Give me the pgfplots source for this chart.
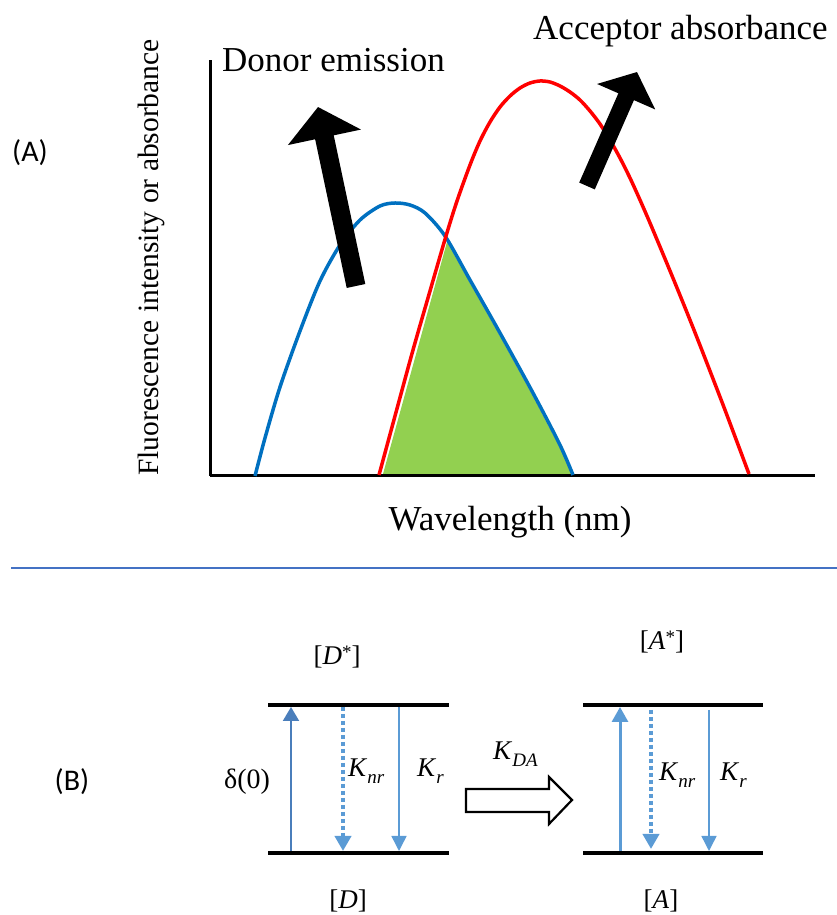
\documentclass[border=0pt]{standalone}
\usepackage{fontspec}
\setmainfont{Liberation Serif}
\newfontfamily\calibri{Carlito}
\usepackage{pgfplots}
\pgfplotsset{compat=1.18}
\usetikzlibrary{arrows.meta}
\definecolor{dblue}{HTML}{0070C0}
\definecolor{accred}{HTML}{FF0000}
\definecolor{ovgreen}{HTML}{92D050}
\definecolor{sepblue}{HTML}{4472C4}
\definecolor{lblue}{HTML}{5B9BD5}
\definecolor{mblue}{HTML}{4A7EBB}
\newcommand\lsub[1]{\raisebox{-0.24em}{\fontsize{19}{20}\selectfont\itshape #1}}
\newcommand\lsup[1]{\raisebox{0.22em}{\fontsize{19}{20}\selectfont #1}}
\newcommand\labfont{\fontsize{27}{30}\selectfont}

\begin{document}
\begin{tikzpicture}
\useasboundingbox (0,0) rectangle (837pt,915pt);
% ---------------- canvas for panel labels and panel (B) ----------------
\begin{axis}[at={(0pt,0pt)}, anchor=south west, scale only axis,
  width=837pt, height=915pt, xmin=0, xmax=837, ymin=0, ymax=915,
  hide axis, clip=false]
  % panel labels
  \node[inner sep=0pt, font=\calibri\fontsize{30}{36}\selectfont] at (axis cs:30,762) {(A)};
  \node[inner sep=0pt, font=\calibri\fontsize{30}{36}\selectfont] at (axis cs:72,133) {(B)};
  % separator
  \addplot[sepblue, line width=2pt] coordinates {(11,347) (837,347)};
  % energy levels
  \addplot[black, line width=4pt] coordinates {(268,210) (449,210)};
  \addplot[black, line width=4pt] coordinates {(268,62) (449,62)};
  \addplot[black, line width=4pt] coordinates {(583,210) (763,210)};
  \addplot[black, line width=4pt] coordinates {(583,62) (763,62)};
  % donor transitions
  \addplot[mblue, line width=2pt, -{Triangle[length=14pt,width=16pt]}] coordinates {(291,64) (291,208)};
  \addplot[lblue, line width=4pt, dash pattern=on 4pt off 3pt, -{Triangle[length=15pt,width=16pt]}] coordinates {(343,208) (343,64)};
  \addplot[lblue, line width=1.5pt, -{Triangle[length=15pt,width=15pt]}] coordinates {(399,208) (399,64)};
  % acceptor transitions
  \addplot[lblue, line width=3pt, -{Triangle[length=15pt,width=16pt]}] coordinates {(620,64) (620,208)};
  \addplot[lblue, line width=4pt, dash pattern=on 4pt off 3pt, -{Triangle[length=15pt,width=16pt]}] coordinates {(651,205) (651,66)};
  \addplot[lblue, line width=1.5pt, -{Triangle[length=15pt,width=15pt]}] coordinates {(709,205) (709,64)};
  % transfer block arrow
  \addplot[black, line width=2.2pt, fill=white] coordinates {(466,126) (549,126) (549,138) (572,115) (549,91) (549,103) (466,103)} -- cycle;
  % labels
  \node[inner sep=0pt, font=\fontsize{28}{32}\selectfont] at (axis cs:247,133) {δ(0)};
  \node[inner sep=0pt, font=\labfont] at (axis cs:337,258) {[\textit{D}\lsup{*}]};
  \node[inner sep=0pt, font=\labfont] at (axis cs:348,14) {[\textit{D}]};
  \node[inner sep=0pt, font=\labfont] at (axis cs:662,273) {[\textit{A}\lsup{*}]};
  \node[inner sep=0pt, font=\labfont] at (axis cs:661,14) {[\textit{A}]};
  \node[inner sep=0pt, anchor=base west, font=\labfont] at (axis cs:348,138) {\textit{K}\lsub{nr}};
  \node[inner sep=0pt, anchor=base west, font=\labfont] at (axis cs:417,138) {\textit{K}\lsub{r}};
  \node[inner sep=0pt, anchor=base west, font=\labfont] at (axis cs:659,134) {\textit{K}\lsub{nr}};
  \node[inner sep=0pt, anchor=base west, font=\labfont] at (axis cs:720,134) {\textit{K}\lsub{r}};
  \node[inner sep=0pt, anchor=base west, font=\labfont] at (axis cs:493,155) {\textit{K}\lsub{DA}};
\end{axis}
% ---------------- panel (A): spectral overlap ----------------
\begin{axis}[at={(210pt,439pt)}, anchor=south west, scale only axis,
  width=605pt, height=416pt, xmin=210, xmax=815, ymin=439, ymax=855,
  axis x line=bottom, axis y line=left,
  axis line style={-, line width=3pt},
  xtick=\empty, ytick=\empty, clip=false,
  xlabel={Wavelength (nm)}, ylabel={Fluorescence intensity or absorbance},
  xlabel style={at={(axis description cs:0.496,-0.11)}, anchor=center, inner sep=0pt, font=\rmfamily\fontsize{35}{40}\selectfont},
  ylabel style={at={(axis description cs:-0.096,0.525)}, anchor=center, inner sep=0pt, font=\rmfamily\fontsize{29.5}{34}\selectfont}]
  % overlap area
  \addplot[fill=ovgreen, draw=none] coordinates {(383,441) (447,673) (470,632) (500,579) (533,519) (560,467) (574,441)} -- cycle;
  % donor emission
  \addplot[dblue, line width=3.5pt, smooth] coordinates {
    (255,439) (265,477) (280,528) (300,584) (320,634) (340,670) (360,695)
    (380,709) (395,712) (410,710) (425,702) (445,679) (470,635) (500,582)
    (533,522) (560,470) (573,440)};
  % acceptor absorbance
  \addplot[accred, line width=3.5pt, smooth] coordinates {
    (379,440) (395,499) (413,565) (430,624) (446,679) (457,714) (470,750)
    (480,774) (490,793) (500,808) (510,819) (520,827) (530,832) (540,834)
    (550,833) (560,829) (570,823) (580,815) (590,804) (600,791) (610,775)
    (620,757) (630,737) (640,715) (650,692) (663,661) (675,632) (690,595)
    (703,562) (725,505) (749,441)};
  % arrows
  \addplot[black, line width=19pt, -{Triangle[length=31pt,width=73pt]}] coordinates {(356,629) (318,808)};
  \addplot[black, line width=17pt, -{Triangle[length=27pt,width=62pt]}] coordinates {(587,729) (637,843)};
  % series labels
  \node[inner sep=0pt, anchor=base west, font=\fontsize{35}{40}\selectfont] at (axis cs:222,843) {Donor emission};
  \node[inner sep=0pt, anchor=base west, font=\fontsize{35}{40}\selectfont] at (axis cs:533,875) {Acceptor absorbance};
\end{axis}
\end{tikzpicture}
\end{document}
